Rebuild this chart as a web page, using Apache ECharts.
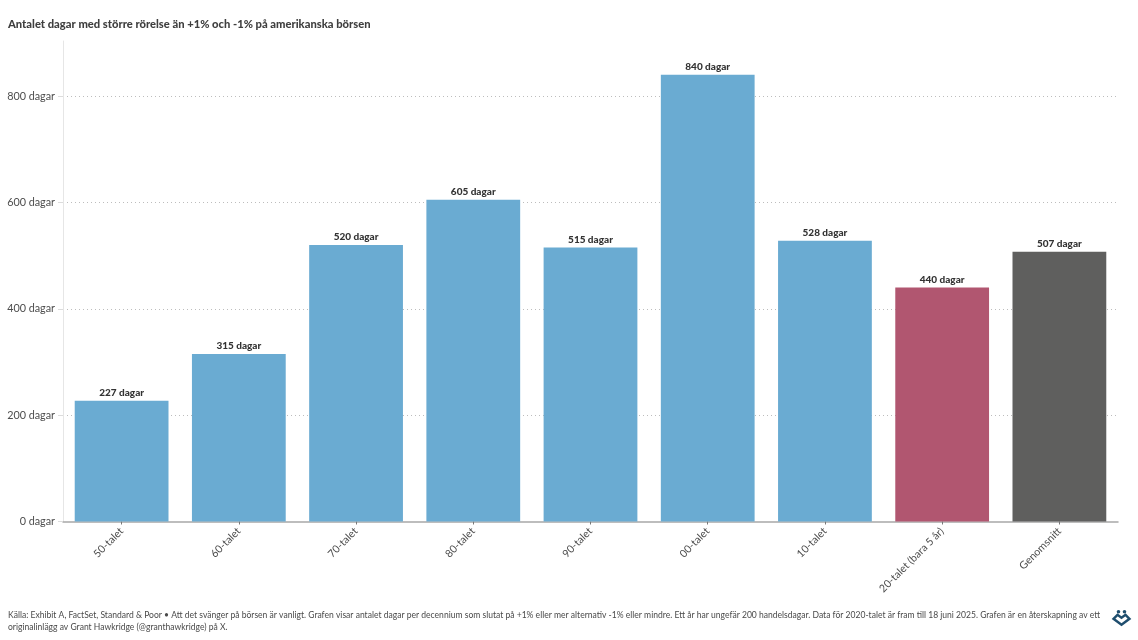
<!DOCTYPE html>
<html><head><meta charset="utf-8">
<script src="https://cdn.jsdelivr.net/npm/echarts@6/dist/echarts.min.js"></script>
<style>html,body{margin:0;padding:0;background:#fff}#c{width:1138px;height:640px}</style>
</head><body><div id="c"></div>
<script>
const categories = ['50-talet','60-talet','70-talet','80-talet','90-talet','00-talet','10-talet','20-talet (bara 5 år)','Genomsnitt'];
const values = [227,315,520,605,515,840,528,440,507];
const barColors = ['#6AABD2','#6AABD2','#6AABD2','#6AABD2','#6AABD2','#6AABD2','#6AABD2','#B15670','#5F5F5E'];
const yTicks = [0,200,400,600,800];
const titleText = 'Antalet dagar med större rörelse än +1% och -1% på amerikanska börsen';
const sourceText = 'Källa: Exhibit A, FactSet, Standard & Poor • Att det svänger på börsen är vanligt. Grafen visar antalet dagar per decennium som slutat på +1% eller mer alternativ -1% eller mindre. Ett år har ungefär 200 handelsdagar. Data för 2020-talet är fram till 18 juni 2025. Grafen är en återskapning av ett\noriginalinlägg av Grant Hawkridge (@granthawkridge) på X.';
const font = 'Lato';
const chart = echarts.init(document.getElementById('c'), null, {renderer:'canvas'});
chart.setOption({
  animation:false,
  backgroundColor:'#ffffff',
  title:[
    {text:titleText,left:8,top:18.5,padding:0,textStyle:{fontFamily:font,fontSize:11.2,fontWeight:900,color:'#3f3f3f'}},
    {text:sourceText,left:8,top:609.5,padding:0,textStyle:{fontFamily:font,fontSize:8.55,fontWeight:400,color:'#4a4a4a',lineHeight:11.7}}
  ],
  grid:{left:63,right:20,top:41,bottom:118.5,containLabel:false},
  xAxis:{type:'category',data:categories,
    axisLine:{lineStyle:{color:'#a8a8a8',width:1.5}},
    axisTick:{show:true,alignWithLabel:true,length:3,lineStyle:{color:'#777'}},
    axisLabel:{rotate:45,interval:0,margin:8,fontFamily:font,fontSize:10.6,color:'#4d4d4d'}},
  yAxis:{type:'value',min:0,max:903.5,
    axisLine:{show:true,lineStyle:{color:'#e6e6e6',width:1}},
    axisTick:{show:true,length:5,customValues:yTicks,lineStyle:{color:'#dcdcdc'}},
    axisLabel:{customValues:yTicks,formatter:v=>v+' dagar',margin:8,fontFamily:font,fontSize:10.8,color:'#4d4d4d'},
    splitLine:{show:true,showMinLine:false,showMaxLine:true,lineStyle:{type:[1,3],color:'#bdbdbd',width:1}}},
  series:[{type:'bar',barWidth:'80%',z:3,
    data:values.map((v,i)=>({value:v,itemStyle:{color:barColors[i]}})),
    label:{show:true,position:'top',distance:3,formatter:p=>p.value+' dagar',fontFamily:font,fontSize:10,fontWeight:900,color:'#333'}}],
  graphic:[
    {type:'group',left:1111,top:610,children:[
      {type:'circle',shape:{cx:8,cy:2,r:1.8},style:{fill:'#1f4e6e'}},
      {type:'circle',shape:{cx:14,cy:2,r:1.8},style:{fill:'#1f4e6e'}},
      {type:'polygon',shape:{points:[[3,9],[7,5],[11,8],[15,5],[19,9],[11,15]]},style:{fill:'none',stroke:'#1f4e6e',lineWidth:2.4}}
    ]}
  ]
});
</script></body></html>
